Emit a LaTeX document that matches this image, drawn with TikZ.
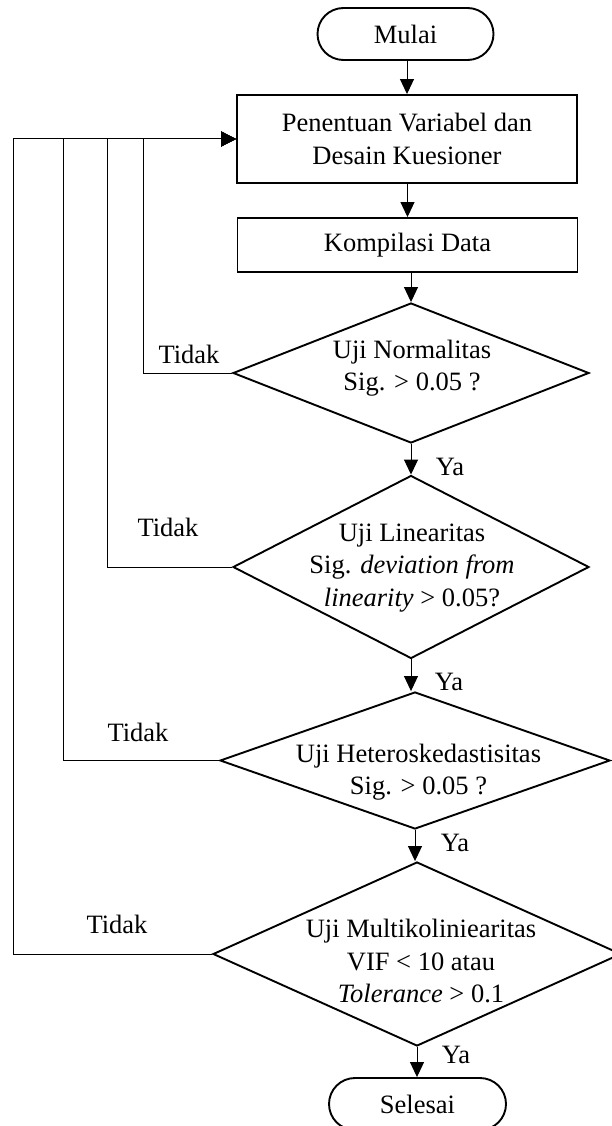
\documentclass[tikz,border=0pt]{standalone}
\usepackage{fontspec}
\setmainfont{Liberation Serif}
\usetikzlibrary{shapes.geometric,arrows.meta}

\begin{document}
\begin{tikzpicture}[x=1pt,y=-1pt,
  every node/.style={font=\fontsize{26.5}{32.5}\selectfont},
  terminal/.style={draw,line width=1.9pt,rectangle,rounded corners=26pt,
    minimum width=176pt,minimum height=52pt,inner sep=0pt},
  process/.style={draw,line width=1.9pt,rectangle,minimum width=340pt,
    inner sep=0pt,align=center},
  decision/.style={draw,line width=1.9pt,diamond,inner sep=0pt},
  txt/.style={inner sep=0pt,align=center},
  flow/.style={line width=1pt,-{Triangle[length=15pt,width=14pt]}},
  back/.style={line width=1pt,-{Triangle[length=15pt,width=15pt]}}
]
\useasboundingbox (0,0) rectangle (612,1126);

% main column
\node[terminal] (start) at (405.5,34) {Mulai};
\node[process,minimum height=88pt] (design) at (407,139)
  {Penentuan Variabel dan\\Desain Kuesioner};
\node[process,minimum height=54pt] (compile) at (407.5,245) {Kompilasi Data};

\node[decision,minimum width=356pt,minimum height=140pt] (normal) at (411,373) {};
\node[txt] (normalT) at (412,368) {Uji Normalitas\\Sig. > 0.05 ?};

\node[decision,minimum width=356pt,minimum height=183pt] (linear) at (411,567) {};
\node[txt] (linearT) at (412,568)
  {Uji Linearitas\\Sig. \textit{deviation from}\\\textit{linearity} > 0.05?};

\node[decision,minimum width=390pt,minimum height=137pt] (hetero) at (415,760.5) {};
\node[txt] (heteroT) at (418.5,772) {Uji Heteroskedastisitas\\Sig. > 0.05 ?};

\node[decision,minimum width=408pt,minimum height=184pt] (multi) at (417,954) {};
\node[txt] (multiT) at (421,961)
  {Uji Multikoliniearitas\\VIF < 10 atau\\\textit{Tolerance} > 0.1};

\node[terminal,minimum width=177pt] (finish) at (417.5,1104) {Selesai};

% downward flow
\draw[flow] (start.south -| design.north) -- (design.north);
\draw[flow] (design.south -| compile.north) -- (compile.north);
\draw[flow] (compile.south -| normal.north) -- (normal.north);
\draw[flow] (normal.south) -- (linear.north);
\draw[flow] (linear.south) -- (linear.south |- hetero.north);
\draw[flow] (hetero.south) -- (hetero.south |- multi.north);
\draw[flow] (multi.south) -- (multi.south |- finish.north);

% "Ya" labels
\node[txt] (ya1) at (450,467) {Ya};
\node[txt] (ya2) at (449,682) {Ya};
\node[txt] (ya3) at (455,843) {Ya};
\node[txt] (ya4) at (456,1055) {Ya};

% return paths
\coordinate (k1) at (143,139);
\coordinate (k2) at (107,139);
\coordinate (k3) at (63,139);
\coordinate (k4) at (13,139);
\draw[back] (normal.west) -| (k1) -- (design.west);
\draw[back] (linear.west) -| (k2) -- (design.west);
\draw[back] (hetero.west) -| (k3) -- (design.west);
\draw[back] (multi.west) -| (k4) -- (design.west);

% "Tidak" labels
\node[txt] (no1) at (189,354) {Tidak};
\node[txt] (no2) at (168,527) {Tidak};
\node[txt] (no3) at (138,732) {Tidak};
\node[txt] (no4) at (117,924) {Tidak};
\end{tikzpicture}
\end{document}
